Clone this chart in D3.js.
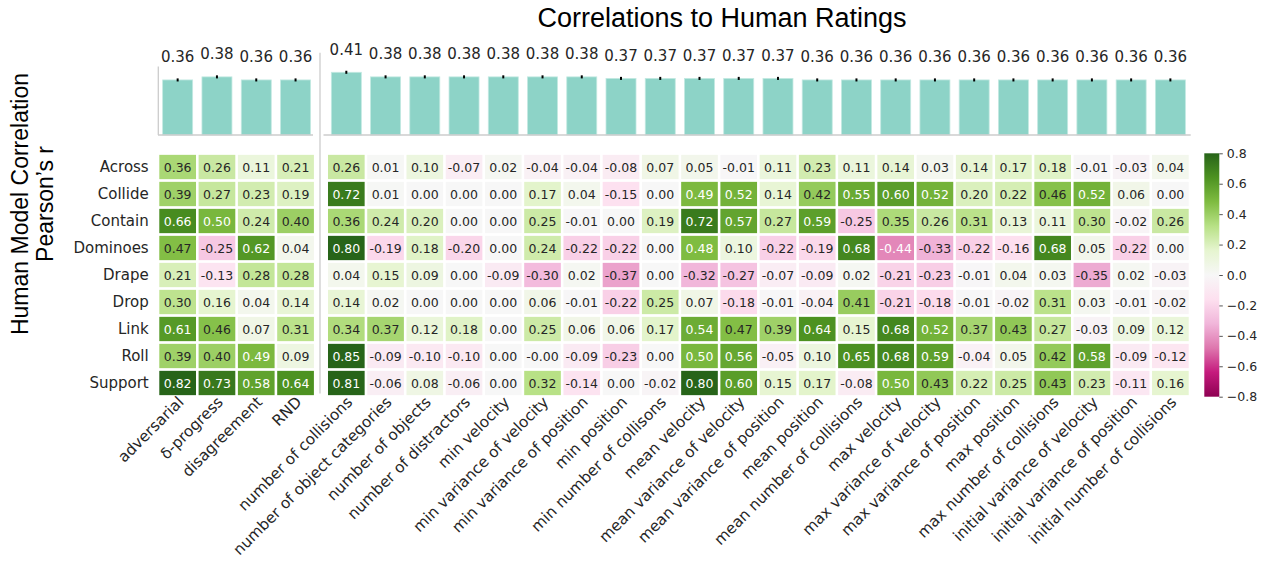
<!DOCTYPE html>
<html>
<head>
<meta charset="utf-8">
<script src="https://cdn.jsdelivr.net/npm/d3@7"></script>
<style>
  body { margin: 0; background: #fff; }
  svg { display: block; font-family: "DejaVu Sans", sans-serif; }
</style>
</head>
<body>
<svg id="chart" width="1271" height="567"></svg>
<script>
// Human-rating correlations: mean bars on top, per-scenario heatmap below,
// split into two column groups (curiosity metrics | scene features).

const rows = ["Across", "Collide", "Contain", "Dominoes", "Drape", "Drop", "Link", "Roll", "Support"];

const metricCols = ["adversarial", "δ-progress", "disagreement", "RND"];
const featureCols = [
  "number of collisions", "number of object categories", "number of objects",
  "number of distractors", "min velocity", "min variance of velocity",
  "min variance of position", "min position", "min number of collisons",
  "mean velocity", "mean variance of velocity", "mean variance of position",
  "mean position", "mean number of collisions", "max velocity",
  "max variance of velocity", "max variance of position", "max position",
  "max number of collisions", "initial variance of velocity",
  "initial variance of position", "initial number of collisions",
];

const metricBars = [0.36, 0.38, 0.36, 0.36];
const featureBars = [0.41, 0.38, 0.38, 0.38, 0.38, 0.38, 0.38, 0.37, 0.37, 0.37, 0.37,
  0.37, 0.36, 0.36, 0.36, 0.36, 0.36, 0.36, 0.36, 0.36, 0.36, 0.36];
const metricErr = [0.01, 0.01, 0.01, 0.01];
const featureErr = [0.01, 0.01, 0.01, 0.01, 0.01, 0.01, 0.01, 0.01, 0.01, 0.01, 0.01,
  0.01, 0.01, 0.01, 0.01, 0.01, 0.01, 0.01, 0.01, 0.01, 0.01, 0.01];

// one row per scenario: 4 metric values, then 22 feature values
// (-0.001 stands for the "-0.00" printed in the reference)
const metricCells = [
  [0.36, 0.26, 0.11, 0.21],
  [0.39, 0.27, 0.23, 0.19],
  [0.66, 0.50, 0.24, 0.40],
  [0.47, -0.25, 0.62, 0.04],
  [0.21, -0.13, 0.28, 0.28],
  [0.30, 0.16, 0.04, 0.14],
  [0.61, 0.46, 0.07, 0.31],
  [0.39, 0.40, 0.49, 0.09],
  [0.82, 0.73, 0.58, 0.64],
];
const featureCells = [
  [0.26, 0.01, 0.10, -0.07, 0.02, -0.04, -0.04, -0.08, 0.07, 0.05, -0.01, 0.11, 0.23, 0.11, 0.14, 0.03, 0.14, 0.17, 0.18, -0.01, -0.03, 0.04],
  [0.72, 0.01, 0.00, 0.00, 0.00, 0.17, 0.04, -0.15, 0.00, 0.49, 0.52, 0.14, 0.42, 0.55, 0.60, 0.52, 0.20, 0.22, 0.46, 0.52, 0.06, 0.00],
  [0.36, 0.24, 0.20, 0.00, 0.00, 0.25, -0.01, 0.00, 0.19, 0.72, 0.57, 0.27, 0.59, -0.25, 0.35, 0.26, 0.31, 0.13, 0.11, 0.30, -0.02, 0.26],
  [0.80, -0.19, 0.18, -0.20, 0.00, 0.24, -0.22, -0.22, 0.00, 0.48, 0.10, -0.22, -0.19, 0.68, -0.44, -0.33, -0.22, -0.16, 0.68, 0.05, -0.22, 0.00],
  [0.04, 0.15, 0.09, 0.00, -0.09, -0.30, 0.02, -0.37, 0.00, -0.32, -0.27, -0.07, -0.09, 0.02, -0.21, -0.23, -0.01, 0.04, 0.03, -0.35, 0.02, -0.03],
  [0.14, 0.02, 0.00, 0.00, 0.00, 0.06, -0.01, -0.22, 0.25, 0.07, -0.18, -0.01, -0.04, 0.41, -0.21, -0.18, -0.01, -0.02, 0.31, 0.03, -0.01, -0.02],
  [0.34, 0.37, 0.12, 0.18, 0.00, 0.25, 0.06, 0.06, 0.17, 0.54, 0.47, 0.39, 0.64, 0.15, 0.68, 0.52, 0.37, 0.43, 0.27, -0.03, 0.09, 0.12],
  [0.85, -0.09, -0.10, -0.10, 0.00, -0.001, -0.09, -0.23, 0.00, 0.50, 0.56, -0.05, 0.10, 0.65, 0.68, 0.59, -0.04, 0.05, 0.42, 0.58, -0.09, -0.12],
  [0.81, -0.06, 0.08, -0.06, 0.00, 0.32, -0.14, 0.00, -0.02, 0.80, 0.60, 0.15, 0.17, -0.08, 0.50, 0.43, 0.22, 0.25, 0.43, 0.23, -0.11, 0.16],
];

const colorTicks = [0.8, 0.6, 0.4, 0.2, 0.0, -0.2, -0.4, -0.6, -0.8];
// ColorBrewer PiYG, 11 classes (matplotlib's PiYG is a linear ramp through these)
const piyg = ["#8e0152", "#c51b7d", "#de77ae", "#f1b6da", "#fde0ef", "#f7f7f7",
  "#e6f5d0", "#b8e186", "#7fbc41", "#4d9221", "#276419"];

const TEXT = "#262626";
const SPINE = "#cccccc";
const BAR_FILL = "#8dd3c7";

const svg = d3.select("#chart");

// ---- scales ---------------------------------------------------------------
const xMetric = d3.scaleBand().domain(metricCols).range([158, 315.2])
  .paddingInner(0.066).paddingOuter(0.033);
const xFeature = d3.scaleBand().domain(featureCols).range([326.7, 1190])
  .paddingInner(0.066).paddingOuter(0.033);
const yRow = d3.scaleBand().domain(rows).range([153.5, 396.5])
  .paddingInner(0.1).paddingOuter(0.05);

// bar panels share px-per-unit; left panel's frame stops lower than the right one
const yBar = d3.scaleLinear().domain([0, 0.538]).range([135, 52.7]);
const LEFT_TOP = 0.447;

const vMin = -0.8, vMax = 0.8;
const color = d3.scaleLinear()
  .domain(d3.range(piyg.length).map((i) => vMin + (i / (piyg.length - 1)) * (vMax - vMin)))
  .range(piyg)
  .clamp(true);

// seaborn-style annotation colour: light text on dark cells
function luminance(c) {
  const rgb = d3.rgb(c);
  const lin = (v) => {
    v /= 255;
    return v <= 0.03928 ? v / 12.92 : Math.pow((v + 0.055) / 1.055, 2.4);
  };
  return 0.2126 * lin(rgb.r) + 0.7152 * lin(rgb.g) + 0.0722 * lin(rgb.b);
}
const LUM_CUT = 0.415;

// ---- title + y label ------------------------------------------------------
svg.append("text")
  .attr("x", 722).attr("y", 27)
  .attr("text-anchor", "middle")
  .style("font-family", "'Liberation Sans', Arial, sans-serif")
  .style("font-size", "27px")
  .attr("fill", "#000")
  .text("Correlations to Human Ratings");

const ylab = svg.append("g")
  .attr("transform", "translate(0,204) rotate(-90)")
  .style("font-family", "'Liberation Sans', Arial, sans-serif")
  .style("font-size", "23px")
  .attr("fill", "#000")
  .attr("text-anchor", "middle");
ylab.append("text").attr("x", 0).attr("y", 28).text("Human Model Correlation");
ylab.append("text").attr("x", 0).attr("y", 53).text("Pearson\u2019s r");

// ---- bar panels -----------------------------------------------------------
function drawBars(x, cols, values, errs) {
  const g = svg.append("g");
  const barW = 30;
  const data = cols.map((c, i) => ({ col: c, value: values[i], err: errs[i] }));
  const cx = (d) => x(d.col) + x.bandwidth() / 2;

  g.selectAll("rect.bar").data(data).join("rect")
    .attr("class", "bar")
    .attr("x", (d) => cx(d) - barW / 2)
    .attr("y", (d) => yBar(d.value))
    .attr("width", barW)
    .attr("height", (d) => yBar(0) - yBar(d.value))
    .attr("fill", BAR_FILL)
    .attr("stroke", "#c3e9e2")
    .attr("stroke-width", 0.8);

  g.selectAll("line.err").data(data).join("line")
    .attr("class", "err")
    .attr("x1", cx).attr("x2", cx)
    .attr("y1", (d) => yBar(d.value + d.err))
    .attr("y2", (d) => yBar(d.value - d.err))
    .attr("stroke", "#000")
    .attr("stroke-width", 2);

  g.selectAll("text.val").data(data).join("text")
    .attr("class", "val")
    .attr("x", cx)
    .attr("y", (d) => yBar(d.value) - 17.5)
    .attr("text-anchor", "middle")
    .style("font-size", "15px")
    .attr("fill", TEXT)
    .text((d) => d.value.toFixed(2));
}

drawBars(xMetric, metricCols, metricBars, metricErr);
drawBars(xFeature, featureCols, featureBars, featureErr);

// spines: left panel has its own frame, the right panel's left spine runs
// down through the heatmap as the group separator
const spines = svg.append("g").attr("stroke", SPINE).attr("stroke-width", 1.3);
spines.append("line")
  .attr("x1", 158.3).attr("x2", 158.3)
  .attr("y1", yBar(LEFT_TOP)).attr("y2", yBar(0));
spines.append("line")
  .attr("x1", 158).attr("x2", 313)
  .attr("y1", yBar(0)).attr("y2", yBar(0));
spines.append("line")
  .attr("x1", 323.5).attr("x2", 1190.7)
  .attr("y1", yBar(0)).attr("y2", yBar(0));
spines.append("line")
  .attr("x1", 320).attr("x2", 320)
  .attr("y1", yBar(yBar.domain()[1])).attr("y2", 393.5);

// ---- heatmap --------------------------------------------------------------
function drawCells(x, cols, matrix) {
  const g = svg.append("g");
  const cells = [];
  rows.forEach((r, ri) => cols.forEach((c, ci) => cells.push({ row: r, col: c, value: matrix[ri][ci] })));

  g.selectAll("rect").data(cells).join("rect")
    .attr("x", (d) => x(d.col))
    .attr("y", (d) => yRow(d.row))
    .attr("width", x.bandwidth())
    .attr("height", yRow.bandwidth())
    .attr("fill", (d) => color(d.value));

  g.selectAll("text").data(cells).join("text")
    .attr("x", (d) => x(d.col) + x.bandwidth() / 2)
    .attr("y", (d) => yRow(d.row) + yRow.bandwidth() / 2)
    .attr("dy", "0.36em")
    .attr("text-anchor", "middle")
    .style("font-size", "12.5px")
    .attr("fill", (d) => luminance(color(d.value)) > LUM_CUT ? TEXT : "#fff")
    .text((d) => d.value.toFixed(2));
}

drawCells(xMetric, metricCols, metricCells);
drawCells(xFeature, featureCols, featureCells);

// row labels
svg.append("g").selectAll("text").data(rows).join("text")
  .attr("x", 148.7)
  .attr("y", (d) => yRow(d) + yRow.bandwidth() / 2)
  .attr("dy", "0.36em")
  .attr("text-anchor", "end")
  .style("font-size", "15px")
  .attr("fill", TEXT)
  .text((d) => d);

// rotated column labels
function drawColLabels(x, cols) {
  svg.append("g").selectAll("text").data(cols).join("text")
    .attr("transform", (d) => `translate(${x(d) + x.bandwidth() / 2 + 7},403) rotate(-45)`)
    .attr("text-anchor", "end")
    .style("font-size", "15.3px")
    .attr("fill", TEXT)
    .text((d) => d);
}
drawColLabels(xMetric, metricCols);
drawColLabels(xFeature, featureCols);

// ---- colorbar -------------------------------------------------------------
const cbX = 1204.3, cbW = 15;
const yCb = d3.scaleLinear().domain([vMin, vMax]).range([396.7, 153.3]);

const grad = svg.append("defs").append("linearGradient")
  .attr("id", "cbGrad")
  .attr("x1", 0).attr("y1", 1).attr("x2", 0).attr("y2", 0);
grad.selectAll("stop").data(piyg).join("stop")
  .attr("offset", (d, i) => i / (piyg.length - 1))
  .attr("stop-color", (d) => d);

svg.append("rect")
  .attr("x", cbX).attr("y", yCb(vMax))
  .attr("width", cbW).attr("height", yCb(vMin) - yCb(vMax))
  .attr("fill", "url(#cbGrad)");

const cbAxis = d3.axisRight(yCb)
  .tickValues(colorTicks)
  .tickFormat(d3.format(".1f"))
  .tickSize(3.5)
  .tickPadding(4);

svg.append("g")
  .attr("transform", `translate(${cbX + cbW},0)`)
  .call(cbAxis)
  .call((g) => g.select(".domain").remove())
  .call((g) => g.selectAll("line").attr("stroke", "#555"))
  .call((g) => g.selectAll("text")
    .style("font-family", "'DejaVu Sans', sans-serif")
    .style("font-size", "12.5px")
    .attr("fill", TEXT));
</script>
</body>
</html>
